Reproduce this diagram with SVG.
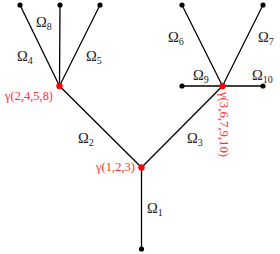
<svg xmlns="http://www.w3.org/2000/svg" width="280" height="254" viewBox="0 0 280 254">
<style>
.e{stroke:#000;stroke-width:1.3;fill:none}
.d{fill:#000}
.h{fill:#ff0000}
.o{font-family:"Liberation Serif","DejaVu Serif",serif;font-size:14.5px;fill:#222}
.s{font-size:10px}
.g{font-family:"Liberation Serif","DejaVu Serif",serif;font-size:11.5px;fill:#ff3333}
</style>
<rect width="280" height="254" fill="#fff"/>
<g id="connectors">
<line class="e" x1="59.5" y1="86" x2="20" y2="5"/>
<line class="e" x1="59.5" y1="86" x2="60" y2="5"/>
<line class="e" x1="59.5" y1="86" x2="100" y2="5"/>
<line class="e" x1="59.5" y1="86" x2="141.5" y2="167.5"/>
<line class="e" x1="141.5" y1="167.5" x2="222.5" y2="86"/>
<line class="e" x1="141.5" y1="167.5" x2="141.5" y2="249"/>
<line class="e" x1="222.5" y1="86" x2="182" y2="5"/>
<line class="e" x1="222.5" y1="86" x2="263" y2="5"/>
<line class="e" x1="182" y1="86" x2="263" y2="86"/>
</g>
<g id="n8"><circle class="d" cx="20" cy="5" r="2.6"/></g>
<g id="n8b"><circle class="d" cx="60" cy="5" r="2.6"/></g>
<g id="n5"><circle class="d" cx="100" cy="5" r="2.6"/></g>
<g id="n6"><circle class="d" cx="182" cy="5" r="2.6"/></g>
<g id="n7"><circle class="d" cx="263" cy="5" r="2.6"/></g>
<g id="n9"><circle class="d" cx="182" cy="86" r="2.6"/></g>
<g id="n10"><circle class="d" cx="263" cy="86" r="2.6"/></g>
<g id="n1"><circle class="d" cx="141.5" cy="249" r="2.6"/></g>
<g id="hubL"><circle class="h" cx="59.5" cy="86" r="3.2"/><text class="g" x="5" y="100" textLength="48" lengthAdjust="spacingAndGlyphs">γ(2,4,5,8)</text></g>
<g id="hubC"><circle class="h" cx="141.5" cy="167.5" r="3.2"/><text class="g" x="96" y="171" textLength="39" lengthAdjust="spacingAndGlyphs">γ(1,2,3)</text></g>
<g id="hubR"><circle class="h" cx="222.5" cy="86" r="3.2"/><text class="g" transform="translate(219.5,92) rotate(90)" textLength="65" lengthAdjust="spacingAndGlyphs">γ(3,6,7,9,10)</text></g>
<g id="labels">
<text class="o" x="36" y="27">Ω<tspan class="s" dy="3">8</tspan></text>
<text class="o" x="17" y="61">Ω<tspan class="s" dy="3">4</tspan></text>
<text class="o" x="86" y="61">Ω<tspan class="s" dy="3">5</tspan></text>
<text class="o" x="168" y="42">Ω<tspan class="s" dy="3">6</tspan></text>
<text class="o" x="258" y="42">Ω<tspan class="s" dy="3">7</tspan></text>
<text class="o" x="193" y="80">Ω<tspan class="s" dy="3">9</tspan></text>
<text class="o" x="252" y="80">Ω<tspan class="s" dy="3">10</tspan></text>
<text class="o" x="78" y="143">Ω<tspan class="s" dy="3">2</tspan></text>
<text class="o" x="187" y="143">Ω<tspan class="s" dy="3">3</tspan></text>
<text class="o" x="147" y="213">Ω<tspan class="s" dy="3">1</tspan></text>
</g>
</svg>
